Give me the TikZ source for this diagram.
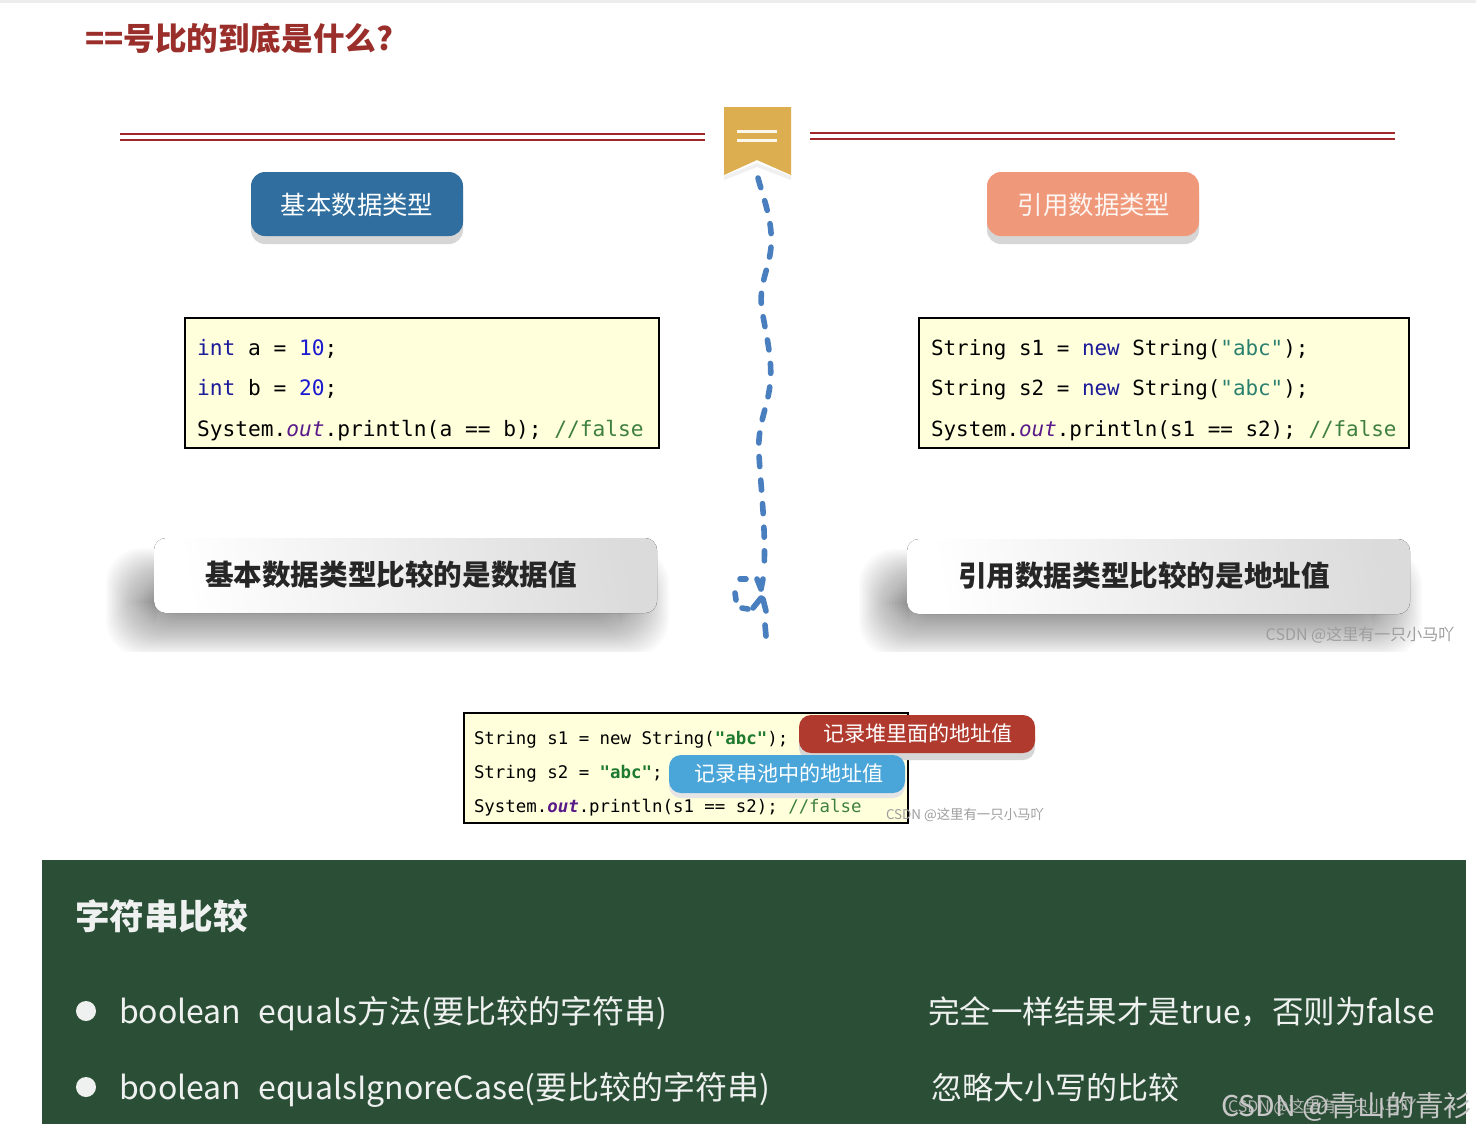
\documentclass[tikz,border=0pt]{standalone}
\usepackage{fontspec}
\usetikzlibrary{shapes.geometric}
\setmainfont{Noto Sans CJK SC}
\newfontfamily\mono{DejaVu Sans Mono}
\definecolor{titlered}{HTML}{9A2E2A}
\definecolor{rulered}{HTML}{A0282D}
\definecolor{ribbon}{HTML}{DDAE4F}
\definecolor{curveblue}{HTML}{4A7FBF}
\definecolor{pillblue}{HTML}{2F6E9E}
\definecolor{pillorange}{HTML}{F0997A}
\definecolor{codebg}{HTML}{FFFFDB}
\definecolor{kw}{HTML}{1A1A9A}
\definecolor{num}{HTML}{1A1AD0}
\definecolor{cm}{HTML}{3F7F3F}
\definecolor{str}{HTML}{2A7F6F}
\definecolor{strb}{HTML}{1E7A2E}
\definecolor{fld}{HTML}{5A1A8A}
\definecolor{pillred}{HTML}{B03A2E}
\definecolor{pillsky}{HTML}{4AA5D9}
\definecolor{panel}{HTML}{2B4F36}
\newcommand{\fs}[1]{\fontsize{#1}{#1}\selectfont}
\tikzset{
 txt/.style={inner sep=0pt,outer sep=0pt},
 codebox/.style={draw=black,line width=1pt,fill=codebg,inner sep=0pt},
 codeline/.style={txt,anchor=base west,font=\mono\fs{10.45}},
 codeleft/.style={txt,anchor=base west,font=\mono\fs{10.6}},
 codesmall/.style={txt,anchor=base west,font=\mono\fs{8.7}},
 pilltext/.style={txt,text=white},
 banner/.style={rounded corners=6pt,left color=white,right color=black!14,shading angle=100,draw=none},
 shadowlayer/.style={fill=black,opacity=0.02,rounded corners=18pt,draw=none},
 wmark/.style={txt,text=black!38},
 paneltext/.style={txt,anchor=base west,text=white!92!panel},
 bluecurve/.style={curveblue,line width=2.8pt,line cap=round,line join=round},
}
\begin{document}
\begin{tikzpicture}[x=0.5pt,y=-0.5pt]
\useasboundingbox (0,0) rectangle (1476,1132);
\fill[white] (0,0) rectangle (1476,1132);
\fill[black!7] (0,0) rectangle (1476,3);
% title
\node[txt,anchor=base west,text=titlered,font=\bfseries\fs{15.8}] (title) at (85,50) {==号比的到底是什么?};
% rules
\foreach \y in {134,140}{\draw[rulered,line width=1pt] (120,\y) -- (705,\y);}
\foreach \y in {133,139}{\draw[rulered,line width=1pt] (810,\y) -- (1395,\y);}
% ribbon
\fill[black!6] (724,176) -- (757,163) -- (791,176) -- (791,180) -- (757,167) -- (724,180) -- cycle;
\fill[ribbon] (724,107) -- (791,107) -- (791,175) -- (757,160) -- (724,175) -- cycle;
\foreach \y in {131,140}{\draw[white!90!ribbon,line width=1.5pt] (737,\y) -- (777,\y);}
% curve
\coordinate (cstart) at (758,178);
\coordinate (cend) at (764,572);
\draw[bluecurve,dash pattern=on 5pt off 6.8pt] (cstart) .. controls (764,200) and (773,222) .. (771,247)
 .. controls (769,270) and (758,285) .. (762,310)
 .. controls (766,335) and (773,360) .. (770,385)
 .. controls (767,410) and (757,425) .. (759,455)
 .. controls (761,490) and (766,530) .. (cend);
\draw[bluecurve] (757,579) -- (761,589) -- (763,579);
\draw[bluecurve] (740,579) -- (746,579);
\draw[bluecurve] (735,593) -- (736,600);
\draw[bluecurve] (742,608) -- (748,609);
\draw[bluecurve] (753,608) -- (761,598) -- (763,599) -- (766,611);
\draw[bluecurve] (765,625) -- (766,636);
% pills
\fill[black!16,rounded corners=7pt] (251,180) rectangle (463,244);
\fill[black!16,rounded corners=7pt] (987,180) rectangle (1199,244);
\fill[pillblue,rounded corners=7pt] (251,172) rectangle (463,236);
\fill[pillorange,rounded corners=7pt] (987,172) rectangle (1199,236);
\node[pilltext,font=\fs{12.7}] (basic) at (357,205) {基本数据类型};
\node[pilltext,font=\fs{12.7},text=white!90!pillorange] (ref) at (1094,205) {引用数据类型};
% code boxes
\draw[codebox] (185,318) rectangle (659,448);
\draw[codebox] (919,318) rectangle (1409,448);
\node[codeleft] (l1) at (197,355) {\textcolor{kw}{int} a = \textcolor{num}{10};};
\node[codeleft] (l2) at (197,395) {\textcolor{kw}{int} b = \textcolor{num}{20};};
\node[codeleft] (l3) at (197,436) {System.\textcolor{fld}{\itshape out}.println(a == b); \textcolor{cm}{//false}};
\node[codeline] (r1) at (931,355) {String s1 = \textcolor{kw}{new} String(\textcolor{str}{"abc"});};
\node[codeline] (r2) at (931,395) {String s2 = \textcolor{kw}{new} String(\textcolor{str}{"abc"});};
\node[codeline] (r3) at (931,436) {System.\textcolor{fld}{\itshape out}.println(s1 == s2); \textcolor{cm}{//false}};
% banner shadows
\begin{scope}
\clip (85,500) rectangle (1476,651);
\foreach \d in {-24,-22,...,24}{
 \fill[shadowlayer] ({130-\d},{572-\d}) rectangle ({645+\d},{632+\d});
 \fill[shadowlayer] ({883-\d},{573-\d}) rectangle ({1398+\d},{633+\d});
}
\end{scope}
\fill[banner] (154,538) rectangle (657,613);
\fill[banner] (907,539) rectangle (1410,614);
\node[txt,font=\bfseries\fs{14.3},text=black!85] (bl) at (391,575) {基本数据类型比较的是数据值};
\node[txt,font=\bfseries\fs{14.3},text=black!85] (br) at (1144,576) {引用数据类型比较的是地址值};
\node[wmark,font=\fs{8}] (w1) at (1360,635) {CSDN @这里有一只小马吖};
% small code
\draw[codebox] (464,713) rectangle (908,823);
\node[codesmall] (s1) at (474,744) {String s1 = new String(\textcolor{strb}{\bfseries "abc"});};
\node[codesmall] (s2) at (474,778) {String s2 = \textcolor{strb}{\bfseries "abc"};};
\fill[black!16,rounded corners=6pt] (799,722) rectangle (1035,760);
\fill[pillred,rounded corners=6pt] (799,715) rectangle (1035,753);
\fill[black!10,rounded corners=6pt] (669,762) rectangle (905,798);
\fill[pillsky,rounded corners=6pt] (669,755) rectangle (905,793);
\node[codesmall] (s3) at (474,812) {System.\textcolor{fld}{\bfseries\itshape out}.println(s1 == s2); \textcolor{cm}{//false}};
\node[pilltext,font=\fs{10.55}] (tr) at (918,733) {记录堆里面的地址值};
\node[pilltext,font=\fs{10.55}] (tb) at (789,773) {记录串池中的地址值};
\node[wmark,font=\fs{6.7}] (w2) at (965,815) {CSDN @这里有一只小马吖};
% green panel
\fill[panel] (42,860) rectangle (1466,1124);
\node[paneltext,font=\bfseries\fs{17.3}] (h) at (75,929) {字符串比较};
\fill[white!92!panel] (86,1011) circle (10);
\fill[white!92!panel] (86,1087) circle (10);
\node[paneltext,font=\fs{16}] (p1) at (119,1023) {boolean\hspace{8.5pt}equals方法(要比较的字符串)};
\node[paneltext,font=\fs{16}] (p2) at (119,1099) {boolean\hspace{8.5pt}equalsIgnoreCase(要比较的字符串)};
\node[paneltext,font=\fs{15.75}] (q1) at (928,1023) {完全一样结果才是true，否则为false};
\node[paneltext,font=\fs{15.5}] (q2) at (931,1099) {忽略大小写的比较};
\node[txt,anchor=base west,text=black!30,font=\fs{8}] (w3) at (1228,1112) {CSDN @这里有一只小马吖};
\node[txt,anchor=base west,text=black!22,font=\fs{14.3}] (w4) at (1221,1116) {CSDN @青山的青衫};
\end{tikzpicture}
\end{document}
